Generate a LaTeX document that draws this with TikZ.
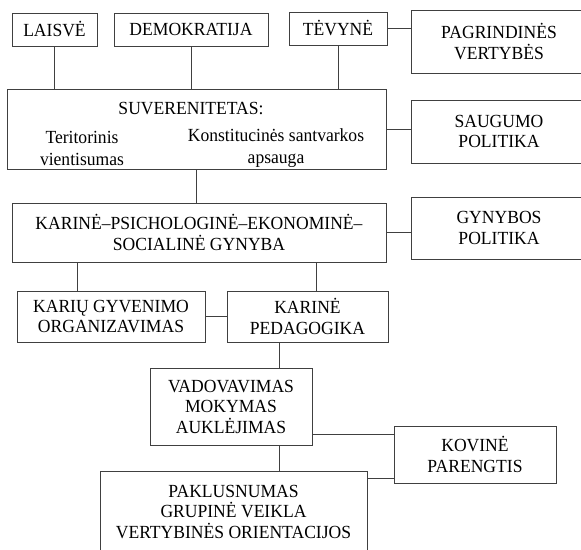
\documentclass[tikz,border=0pt]{standalone}
\usepackage{fontspec}
\setmainfont[FakeStretch=0.95]{Liberation Serif}
\usepackage{tikz}
\usetikzlibrary{positioning,calc}

\begin{document}
\begin{tikzpicture}[x=1pt, y=-1pt,
    font=\fontsize{18.5}{20.5}\selectfont,
    box/.style={draw=black!75, line width=0.9pt, inner sep=0pt, align=center},
    plain/.style={inner sep=0pt, align=center},
    link/.style={draw=black!75, line width=0.9pt}]
    \useasboundingbox (0,0) rectangle (581,549);
    \clip (0,0) rectangle (581,549);

    % Nodes
    \node[box, minimum width=85pt, minimum height=33pt] (laisve) at (54.5,29.5) {LAISVĖ};
    \node[box, minimum width=154pt, minimum height=33pt] (demokratija) at (191,29.5) {DEMOKRATIJA};
    \node[box, minimum width=98pt, minimum height=33pt] (tevyne) at (338,28.5) {TĖVYNĖ};
    \node[box, minimum width=176pt, minimum height=63pt] (pagrindines) at (499,41.5) {PAGRINDINĖS\\VERTYBĖS};

    \node[box, minimum width=379pt, minimum height=80pt] (suverenitetas) at (196.5,129) {};
    \node[plain] (suv-title) at (191,108.5) {SUVERENITETAS:};
    \node[plain, font=\fontsize{18.5}{22}\selectfont] (suv-teritorinis) at (82,148) {Teritorinis\\vientisumas};
    \node[plain, font=\fontsize{18.5}{22}\selectfont] (suv-konstitucija) at (276,148) {Konstitucinės santvarkos\\apsauga};
    \node[box, minimum width=176pt, minimum height=63pt] (saugumo) at (499,131.5) {SAUGUMO\\POLITIKA};

    \node[box, minimum width=374pt, minimum height=59pt] (karine) at (199,232.5) {KARINĖ–PSICHOLOGINĖ–EKONOMINĖ–\\SOCIALINĖ GYNYBA};
    \node[box, minimum width=176pt, minimum height=62pt] (gynybos) at (499,228) {GYNYBOS\\POLITIKA};

    \node[box, minimum width=188pt, minimum height=51pt] (kariu) at (111,316.5) {KARIŲ GYVENIMO\\ORGANIZAVIMAS};
    \node[box, minimum width=161pt, minimum height=51pt] (pedagogika) at (307.5,316.5) {KARINĖ\\PEDAGOGIKA};

    \node[box, minimum width=162pt, minimum height=77pt] (vadovavimas) at (231,406.5) {VADOVAVIMAS\\MOKYMAS\\AUKLĖJIMAS};
    \node[box, minimum width=162pt, minimum height=57pt] (kovine) at (475,454.5) {KOVINĖ\\PARENGTIS};
    \node[box, minimum width=267pt, minimum height=82pt] (paklusnumas) at (233.5,512) {PAKLUSNUMAS\\GRUPINĖ VEIKLA\\VERTYBINĖS ORIENTACIJOS};

    % link points
    \coordinate (kariu-link) at (77,291);
    \coordinate (pedagogika-link) at (316,291);
    \coordinate (vadovavimas-link) at (279,368);
    \coordinate (kovine-top) at (394,434);
    \coordinate (kovine-bottom) at (394,478);

    % Lines
    \draw[link] (laisve.south) -- (laisve.south |- suverenitetas.north);
    \draw[link] (demokratija.south) -- (demokratija.south |- suverenitetas.north);
    \draw[link] (tevyne.south) -- (tevyne.south |- suverenitetas.north);
    \draw[link] (tevyne.east) -- (tevyne.east -| pagrindines.west);
    \draw[link] (suverenitetas.east) -- (suverenitetas.east -| saugumo.west);
    \draw[link] (suverenitetas.south) -- (suverenitetas.south |- karine.north);
    \draw[link] (karine.east) -- (karine.east -| gynybos.west);
    \draw[link] (kariu-link |- karine.south) -- (kariu-link);
    \draw[link] (pedagogika-link |- karine.south) -- (pedagogika-link);
    \draw[link] (kariu.east) -- (kariu.east -| pedagogika.west);
    \draw[link] (vadovavimas-link |- pedagogika.south) -- (vadovavimas-link);
    \draw[link] (vadovavimas-link |- vadovavimas.south) -- (vadovavimas-link |- paklusnumas.north);
    \draw[link] (kovine-top -| vadovavimas.east) -- (kovine-top);
    \draw[link] (kovine-bottom -| paklusnumas.east) -- (kovine-bottom);

\end{tikzpicture}
\end{document}
